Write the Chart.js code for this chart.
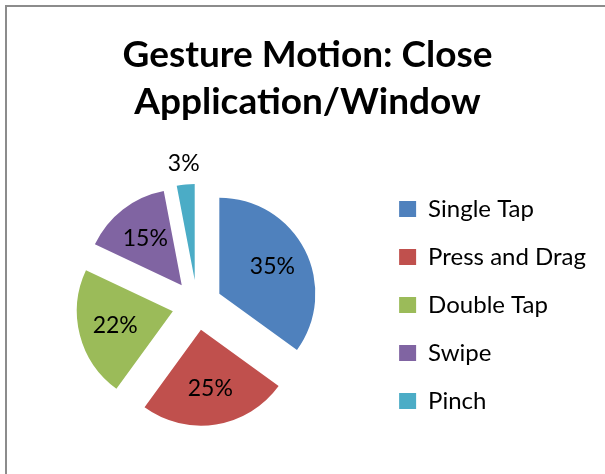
<!DOCTYPE html>
<html>
<head>
<meta charset="utf-8">
<title>Gesture Motion: Close Application/Window</title>
<script src="https://cdn.jsdelivr.net/npm/chart.js@4"></script>
<style>
    html, body {
        margin: 0;
        padding: 0;
        background: #fff;
        overflow: hidden;
    }
    .frame {
        position: absolute;
        left: 5px;
        top: 5px;
        border-left: 2px solid #8c8c8c;
        border-top: 2px solid #8c8c8c;
    }
    canvas {
        display: block;
    }
</style>
</head>
<body>
<div class="frame">
    <canvas id="gestureChart" width="598" height="467"></canvas>
</div>
<script>
const gestures = ['Single Tap', 'Press and Drag', 'Double Tap', 'Swipe', 'Pinch'];
const shares = [35, 25, 22, 15, 3];
const sliceColors = ['#4F81BD', '#C0504D', '#9BBB59', '#8064A2', '#4BACC6'];

const EXPLODE = 25;
const FONT = 'Lato, "Open Sans", sans-serif';

// Pull every slice out from the centre along its mid angle
const explodePlugin = {
    id: 'explodeSlices',
    beforeDatasetDraw(chart, args) {
        const ctx = chart.ctx;
        args.meta.data.forEach(arc => {
            const mid = (arc.startAngle + arc.endAngle) / 2;
            ctx.save();
            ctx.translate(Math.cos(mid) * EXPLODE, Math.sin(mid) * EXPLODE);
            arc.draw(ctx);
            ctx.restore();
        });
        return false;
    }
};

// Percentage labels, inside the slice or just outside for thin ones
const percentLabels = {
    id: 'percentLabels',
    afterDatasetsDraw(chart) {
        const ctx = chart.ctx;
        const meta = chart.getDatasetMeta(0);
        const values = chart.data.datasets[0].data;
        const total = values.reduce((a, b) => a + b, 0);
        ctx.save();
        ctx.font = '23px ' + FONT;
        ctx.fillStyle = '#000';
        ctx.textAlign = 'center';
        ctx.textBaseline = 'middle';
        meta.data.forEach((arc, i) => {
            const pct = Math.round(values[i] / total * 100);
            const mid = (arc.startAngle + arc.endAngle) / 2;
            const dist = pct < 5 ? EXPLODE + arc.outerRadius + 21 : EXPLODE + arc.outerRadius * 0.62;
            const x = arc.x + Math.cos(mid) * dist;
            const y = arc.y + Math.sin(mid) * dist;
            ctx.fillText(pct + '%', x, y);
        });
        ctx.restore();
    }
};

new Chart(document.getElementById('gestureChart'), {
    type: 'pie',
    data: {
        labels: gestures,
        datasets: [{
            data: shares,
            backgroundColor: sliceColors,
            borderWidth: 0,
            offset: 0,
            hoverOffset: 0,
            radius: 96
        }]
    },
    options: {
        responsive: false,
        animation: false,
        events: [],
        layout: {
            padding: { left: 12, right: 9, top: 0, bottom: 0 }
        },
        plugins: {
            title: {
                display: true,
                text: ['Gesture Motion: Close', 'Application/Window'],
                color: '#000',
                font: { family: FONT, size: 37, weight: 'bold', lineHeight: 1.27 },
                padding: { top: 25, bottom: 10 }
            },
            legend: {
                position: 'right',
                fullSize: false,
                labels: {
                    boxWidth: 17,
                    boxHeight: 16,
                    padding: 24,
                    color: '#000',
                    font: { family: FONT, size: 24 }
                }
            },
            tooltip: { enabled: false }
        }
    },
    plugins: [explodePlugin, percentLabels]
});
</script>
</body>
</html>
